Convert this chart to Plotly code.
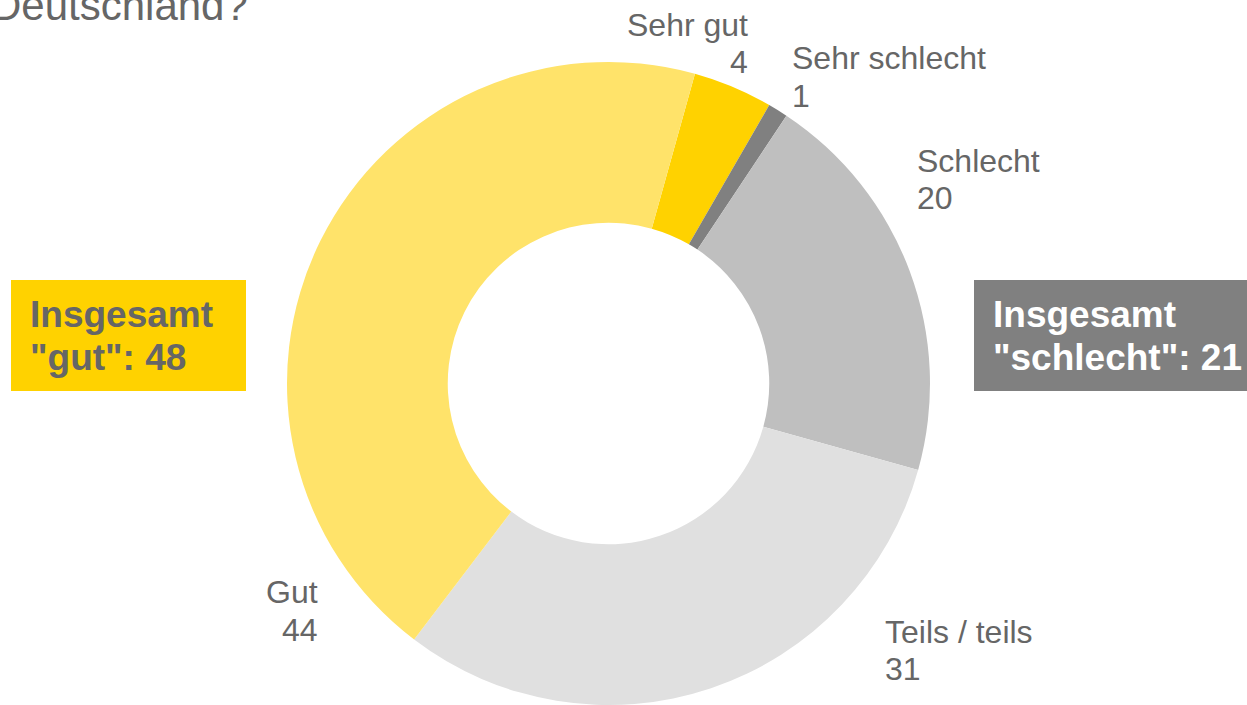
import plotly.graph_objects as go

labels = ["Sehr gut", "Sehr schlecht", "Schlecht", "Teils / teils", "Gut"]
values = [4, 1, 20, 31, 44]
colors = ["#FFD200", "#808080", "#BFBFBF", "#E0E0E0", "#FFE36A"]

W, H = 1247, 705
def px(x):
    return x / W
def py(y):
    return 1 - y / H

FONT = "Liberation Sans, Arial, sans-serif"
TXT = "#666666"

fig = go.Figure(go.Pie(
    labels=labels, values=values, sort=False, direction="clockwise",
    rotation=15.6, hole=0.5, textinfo="none", hoverinfo="label+value",
    marker=dict(colors=colors, line=dict(width=0)),
    domain=dict(x=[px(286.5), px(930.5)], y=[0, py(62)]),
    showlegend=False,
))

anns = []
def line(text, x, y, xanchor, size=32, color=TXT):
    anns.append(dict(text=text, x=px(x), y=py(y), xref="paper", yref="paper",
                     xanchor=xanchor, yanchor="middle", showarrow=False,
                     font=dict(family=FONT, size=size, color=color)))

def lab(name, val, x, y1, y2, xanchor):
    line(name, x, y1, xanchor)
    line(str(val), x, y2, xanchor)

lab(labels[0], values[0], 750, 25, 62, "right")
lab(labels[1], values[1], 790, 58, 96, "left")
lab(labels[2], values[2], 915, 161, 198, "left")
lab(labels[3], values[3], 883, 632, 669, "left")
lab(labels[4], values[4], 320, 592, 630, "right")

# title fragment (cut off at the top)
anns.append(dict(text="Deutschland?", x=px(250), y=py(17), xref="paper", yref="paper",
                 xanchor="right", yanchor="bottom", showarrow=False, yshift=-14,
                 font=dict(family=FONT, size=42, color=TXT)))

shapes = [
    dict(type="rect", xref="paper", yref="paper", x0=px(11), x1=px(246), y0=py(391), y1=py(280),
         fillcolor="#FFD200", line=dict(width=0), layer="below"),
    dict(type="rect", xref="paper", yref="paper", x0=px(974), x1=px(1250), y0=py(391), y1=py(280),
         fillcolor="#808080", line=dict(width=0), layer="below"),
]
line("<b>Insgesamt</b>", 28, 314, "left", size=37)
line("<b>\"gut\": 48</b>", 28, 358, "left", size=37)
line("<b>Insgesamt</b>", 991, 314, "left", size=37, color="#FFFFFF")
line("<b>\"schlecht\": 21</b>", 991, 358, "left", size=37, color="#FFFFFF")

fig.update_layout(width=W, height=H, margin=dict(l=0, r=0, t=0, b=0),
                  paper_bgcolor="white", plot_bgcolor="white",
                  annotations=anns, shapes=shapes)
fig.write_html("out.html", config={"displayModeBar": False},
               post_script="document.body.style.margin='0';")
